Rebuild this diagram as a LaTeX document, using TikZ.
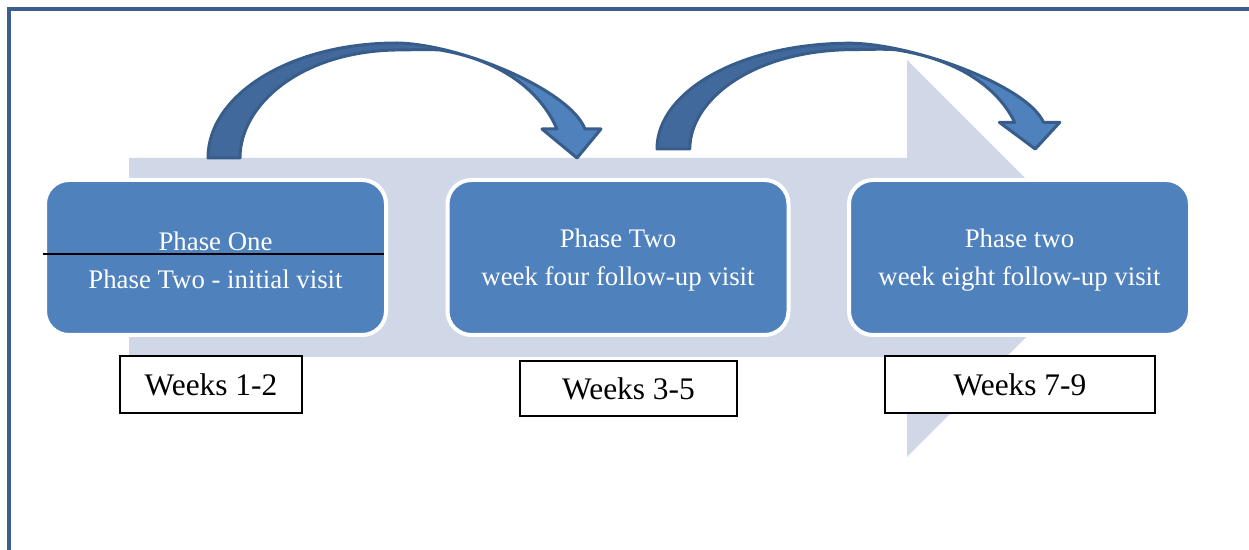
\documentclass[tikz,border=0pt]{standalone}
\usepackage{fontspec}
\setmainfont{Liberation Serif}
\definecolor{framec}{HTML}{3B5E8C}
\definecolor{bgarrow}{HTML}{D0D8E8}
\definecolor{boxc}{HTML}{4F81BD}
\definecolor{arrdark}{HTML}{41699C}
\definecolor{arrlight}{HTML}{4F81BD}
\definecolor{arrline}{HTML}{385D8A}
\newcommand\drawcurvedarrow{%
  \fill[arrdark] (0,0) .. controls (0,-63) and (82,-115) .. (189,-115) .. controls (252,-114) and (362,-68) .. (377,-29) -- (393,-29) -- (369,0) -- (334,-29) -- (349,-29) .. controls (332,-68) and (292,-98) .. (232,-108) .. controls (217,-109) and (202,-108) .. (187,-108) .. controls (92,-106) and (32,-53) .. (32,0) -- cycle;
  \begin{scope}
    \clip (240,-130) rectangle (420,10);
    \fill[arrlight] (0,0) .. controls (0,-63) and (82,-115) .. (189,-115) .. controls (252,-114) and (362,-68) .. (377,-29) -- (393,-29) -- (369,0) -- (334,-29) -- (349,-29) .. controls (332,-68) and (292,-98) .. (232,-108) .. controls (217,-109) and (202,-108) .. (187,-108) .. controls (92,-106) and (32,-53) .. (32,0) -- cycle;
  \end{scope}
  \draw[arrowline] (0,0) .. controls (0,-63) and (82,-115) .. (189,-115) .. controls (252,-114) and (362,-68) .. (377,-29) -- (393,-29) -- (369,0) -- (334,-29) -- (349,-29) .. controls (332,-68) and (292,-98) .. (232,-108) .. controls (217,-109) and (202,-108) .. (187,-108) .. controls (92,-106) and (32,-53) .. (32,0) -- cycle;
}
\tikzset{
  frameline/.style={draw=framec, line width=2pt, line cap=rect},
  arrowline/.style={draw=arrline, line width=1.5pt, line join=round},
  phasebox/.style={draw=white, fill=boxc, line width=2pt, rounded corners=12pt,
    minimum width=170.5pt, minimum height=77.5pt, inner sep=0pt},
  phasetext/.style={text=white, align=center, inner sep=0pt,
    font=\fontsize{13.4pt}{19pt}\selectfont},
  weekbox/.style={draw=black, fill=white, line width=1pt, inner sep=0pt,
    minimum height=28.5pt, font=\fontsize{15.7pt}{18pt}\selectfont}
}
\begin{document}
\begin{tikzpicture}[x=0.5pt,y=-0.5pt]
\useasboundingbox (0,0) rectangle (1249,550);
% frame
\draw[frameline] (9,560) -- (9,9) -- (1260,9);
% background block arrow
\fill[bgarrow] (129,158) -- (907,158) -- (907,60) -- (1105,258) -- (907,457) -- (907,357) -- (129,357) -- cycle;
% curved arrows
\begin{scope}[shift={(208,158)}]
  \drawcurvedarrow
\end{scope}
\begin{scope}[shift={(657,149)}, xscale=1.025, yscale=0.92]
  \drawcurvedarrow
\end{scope}
% phase boxes
\node[phasebox] (p1) at (215.5,257.5) {};
\node[phasebox] (p2) at (618,257.5) {};
\node[phasebox] (p3) at (1019.5,257.5) {};
\node[phasetext, yshift=-1.5pt] (t1) at (p1.center) {Phase One\\Phase Two - initial visit};
\node[phasetext, yshift=-1.5pt] (t2) at (p2.center) {Phase Two\\week four follow-up visit};
\node[phasetext, yshift=-1.5pt] (t3) at (p3.center) {Phase two\\week eight follow-up visit};
\coordinate (l1) at (43,254);
\coordinate (l2) at (384,254);
\draw[black, line width=1pt] (l1) -- (l2);
% week boxes
\node[weekbox, minimum width=91pt] (w1) at (211,384.5) {Weeks 1-2};
\node[weekbox, minimum width=108.5pt, minimum height=27.5pt] (w2) at (628.5,388.5) {Weeks 3-5};
\node[weekbox, minimum width=135pt] (w3) at (1020,384.5) {Weeks 7-9};
\end{tikzpicture}
\end{document}
